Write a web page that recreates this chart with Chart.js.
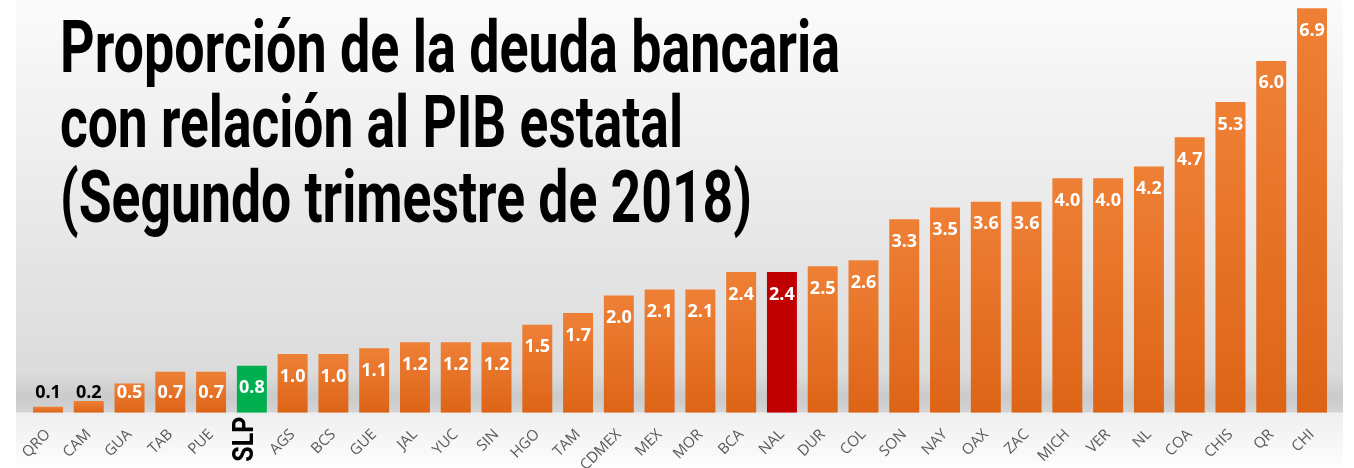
<!DOCTYPE html>
<html>
<head>
<meta charset="utf-8">
<script src="https://cdn.jsdelivr.net/npm/chart.js@4.4.1/dist/chart.umd.min.js"></script>
<style>
  html, body { margin: 0; padding: 0; background: #fff; }
  #wrap { width: 1354px; height: 468px; position: relative; }
</style>
</head>
<body>
<div id="wrap"><canvas id="grafico"></canvas></div>
<script>
// datos
const estados = ['QRO','CAM','GUA','TAB','PUE','SLP','AGS','BCS','GUE','JAL','YUC','SIN','HGO','TAM','CDMEX','MEX','MOR','BCA','NAL','DUR','COL','SON','NAY','OAX','ZAC','MICH','VER','NL','COA','CHIS','QR','CHI'];
const deuda = [0.1,0.2,0.5,0.7,0.7,0.8,1.0,1.0,1.1,1.2,1.2,1.2,1.5,1.7,2.0,2.1,2.1,2.4,2.4,2.5,2.6,3.3,3.5,3.6,3.6,4.0,4.0,4.2,4.7,5.3,6.0,6.9];
const titulo = ['Proporción de la deuda bancaria', 'con relación al PIB estatal', '(Segundo trimestre de 2018)'];
const destacado = 'SLP';
const nacional = 'NAL';

const fuenteCond = 'Roboto, "DejaVu Sans Condensed", sans-serif';

// fondo con degradado
const fondo = {
  id: 'fondo',
  beforeDraw(chart) {
    const c = chart.ctx, base = chart.chartArea.bottom;
    c.save();
    let g = c.createLinearGradient(0, 0, 0, base);
    g.addColorStop(0, '#fbfbfb');
    g.addColorStop(1, '#d8d8d8');
    c.fillStyle = g;
    c.fillRect(16, 0, 1327, base);
    // sombra/reflejo cerca de la base
    g = c.createLinearGradient(0, base - 40, 0, base);
    g.addColorStop(0, 'rgba(0,0,0,0)');
    g.addColorStop(0.6, 'rgba(0,0,0,0.07)');
    g.addColorStop(1, 'rgba(0,0,0,0.02)');
    c.fillStyle = g;
    c.fillRect(16, base - 40, 1327, 40);
    g = c.createLinearGradient(0, base, 0, chart.height);
    g.addColorStop(0, '#efefef');
    g.addColorStop(1, '#fdfdfd');
    c.fillStyle = g;
    c.fillRect(16, base, 1327, chart.height - base);
    c.restore();
  }
};

// titulo, etiquetas de valor y SLP
const textos = {
  id: 'textos',
  afterDraw(chart) {
    const c = chart.ctx;
    const xs = chart.scales.x, ys = chart.scales.y;
    const base = ys.getPixelForValue(0);
    c.save();
    // etiquetas de valor
    c.font = 'bold 18px "Open Sans", sans-serif';
    c.textAlign = 'center';
    c.textBaseline = 'alphabetic';
    deuda.forEach((v, i) => {
      const x = xs.getPixelForValue(i);
      const top = ys.getPixelForValue(v);
      const y = Math.min(top + 27.5, base - 14.5);
      c.fillStyle = (y - 12 < top) ? '#000000' : '#ffffff';
      c.fillText(v.toFixed(1), x, y);
    });
    // titulo
    const anchos = [780, 623, 692];
    c.fillStyle = '#000000';
    c.textAlign = 'left';
    c.font = 'bold 73px ' + fuenteCond;
    titulo.forEach((t, k) => {
      const w = c.measureText(t).width;
      c.save();
      c.translate(60, 72 + k * 75);
      c.scale(anchos[k] / w, 1);
      c.fillText(t, 0, 0);
      c.restore();
    });
    // SLP vertical
    const idx = estados.indexOf(destacado);
    c.font = 'bold 30px ' + fuenteCond;
    const ws = c.measureText(destacado).width;
    c.save();
    c.translate(xs.getPixelForValue(idx) + 1.5, 461.7);
    c.rotate(-Math.PI / 2);
    c.scale(45 / ws, 1);
    c.fillText(destacado, 0, 0);
    c.restore();
    c.restore();
  }
};

function colorBarra(ctx) {
  const i = ctx.dataIndex;
  if (estados[i] === destacado) return '#00B050';
  if (estados[i] === nacional) return '#C00000';
  const chart = ctx.chart, ys = chart.scales.y;
  if (!chart.chartArea || !ys) return '#E8742A';
  const top = ys.getPixelForValue(deuda[i]);
  const bot = ys.getPixelForValue(0);
  const g = chart.ctx.createLinearGradient(0, top, 0, bot);
  g.addColorStop(0, '#EE8036');
  g.addColorStop(1, '#DD6417');
  return g;
}

const ctx = document.getElementById('grafico');
new Chart(ctx, {
  type: 'bar',
  data: {
    labels: estados,
    datasets: [{
      label: 'Deuda/PIB',
      data: deuda,
      backgroundColor: colorBarra,
      borderWidth: 0,
      categoryPercentage: 1,
      barPercentage: 0.735
    }]
  },
  options: {
    responsive: true,
    maintainAspectRatio: false,
    animation: false,
    layout: { padding: { left: 27.6, right: 21.6, top: 0, bottom: 0 } },
    plugins: { legend: { display: false }, tooltip: { enabled: false } },
    scales: {
      y: { display: false, min: 0, max: 7.04 },
      x: {
        grid: { display: false },
        border: { display: false },
        afterFit(s) { s.height = 55.3; },
        ticks: {
          minRotation: 45,
          maxRotation: 45,
          autoSkip: false,
          padding: 5,
          color: '#595959',
          font: { family: '"Open Sans", sans-serif', size: 15 },
          callback(v, i) { return estados[i] === destacado ? '' : estados[i]; }
        }
      }
    }
  },
  plugins: [fondo, textos]
});
</script>
</body>
</html>
